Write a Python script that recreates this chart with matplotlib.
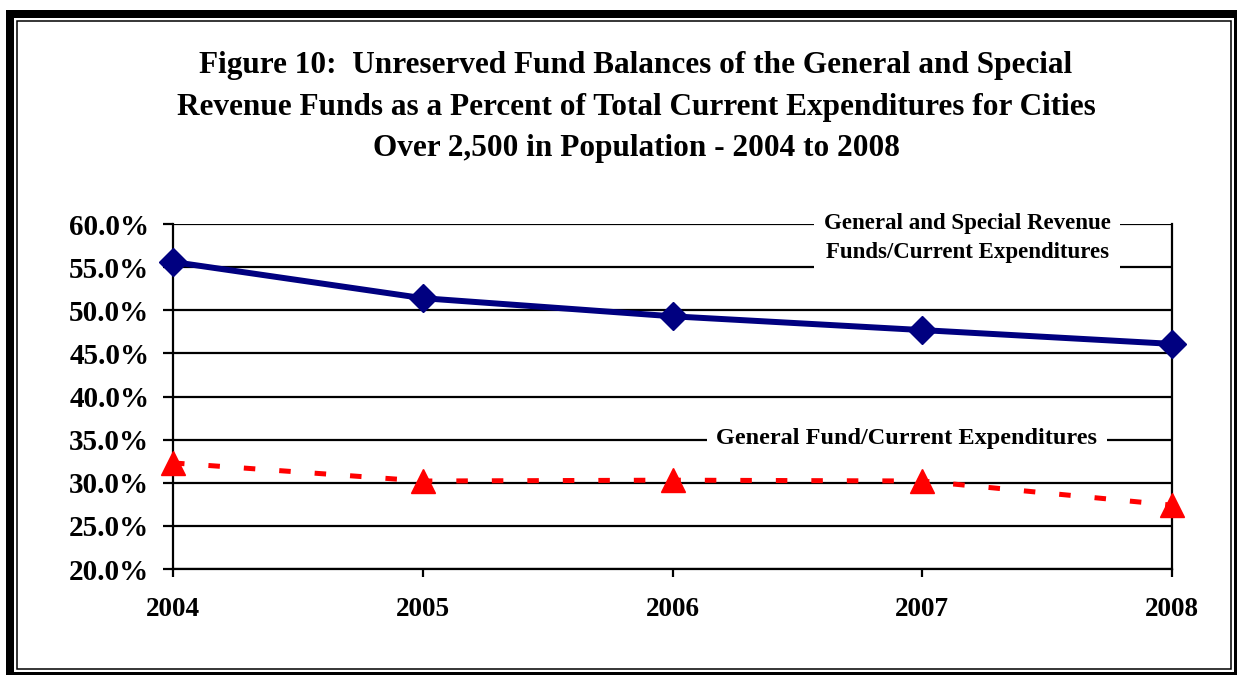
import matplotlib
matplotlib.use("Agg")
import matplotlib.pyplot as plt
from matplotlib.patches import Rectangle
from matplotlib.ticker import FuncFormatter

years = [2004, 2005, 2006, 2007, 2008]
gen_special = [55.6, 51.4, 49.3, 47.7, 46.1]
gen_fund = [32.3, 30.2, 30.3, 30.2, 27.4]
yticks = [20, 25, 30, 35, 40, 45, 50, 55, 60]
title = ("Figure 10:  Unreserved Fund Balances of the General and Special\n"
         "Revenue Funds as a Percent of Total Current Expenditures for Cities\n"
         "Over 2,500 in Population - 2004 to 2008")
label_gs = "General and Special Revenue\nFunds/Current Expenditures"
label_gf = "General Fund/Current Expenditures"

plt.rcParams['font.family'] = ['Liberation Serif', 'DejaVu Serif']
plt.rcParams['font.weight'] = 'bold'

W, H = 1239, 677
fig = plt.figure(figsize=(W / 100, H / 100), dpi=100)

# background frame axes
bg = fig.add_axes([0, 0, 1, 1], zorder=-10)
bg.set_xlim(0, W)
bg.set_ylim(H, 0)
bg.axis('off')
bg.add_patch(Rectangle((6, 10), 1231, 665, facecolor='black', edgecolor='none'))
bg.add_patch(Rectangle((14, 18), 1220, 654, facecolor='white', edgecolor='none'))
bg.add_patch(Rectangle((16.5, 20.5), 1214.5, 648.5, facecolor='none', edgecolor='black', lw=1.1))

ax = fig.add_axes([173 / W, 1 - 569 / H, (1172 - 173) / W, (569 - 224) / H], zorder=5)
ax.set_facecolor('none')

ax.plot(years, gen_special, color='#000080', lw=4.3, marker='D', markersize=14,
        clip_on=False, zorder=5)
ax.plot(years, gen_fund, color='#FF0000', lw=3.6, dashes=(2.3, 4.8), marker='^',
        markersize=17, clip_on=False, zorder=5)

ax.set_xlim(2004, 2008)
ax.set_ylim(20, 60)
ax.set_xticks(years)
ax.set_yticks(yticks)
ax.yaxis.set_major_formatter(FuncFormatter(lambda v, p: f"{v:.1f}%"))
ax.grid(axis='y', color='black', lw=1.6)
ax.set_axisbelow(True)
for s in ['left', 'right', 'bottom']:
    ax.spines[s].set_linewidth(1.6)
    ax.spines[s].set_color('black')
ax.spines['top'].set_visible(False)
ax.tick_params(axis='y', length=7, width=1.6, labelsize=21, pad=10)
ax.tick_params(axis='x', length=6, width=1.6, labelsize=19.5, pad=14)
for lab in ax.get_xticklabels() + ax.get_yticklabels():
    lab.set_fontweight('bold')

fig.text(636 / W, 1 - 107 / H, title, ha='center', va='center', fontsize=22.5,
         fontweight='bold', linespacing=1.56, zorder=6)

ax.text((967 - 173) / (1172 - 173), 1 - (238 - 224) / (569 - 224), label_gs,
        transform=ax.transAxes, ha='center', va='center', fontsize=16.5,
        fontweight='bold', linespacing=1.45, zorder=4,
        bbox=dict(facecolor='white', edgecolor='none', pad=7))
ax.text((907 - 173) / (1172 - 173), 1 - (438 - 224) / (569 - 224), label_gf,
        transform=ax.transAxes, ha='center', va='center', fontsize=17.5,
        fontweight='bold', zorder=4,
        bbox=dict(facecolor='white', edgecolor='none', pad=7))

fig.savefig('out.png', dpi=100)
